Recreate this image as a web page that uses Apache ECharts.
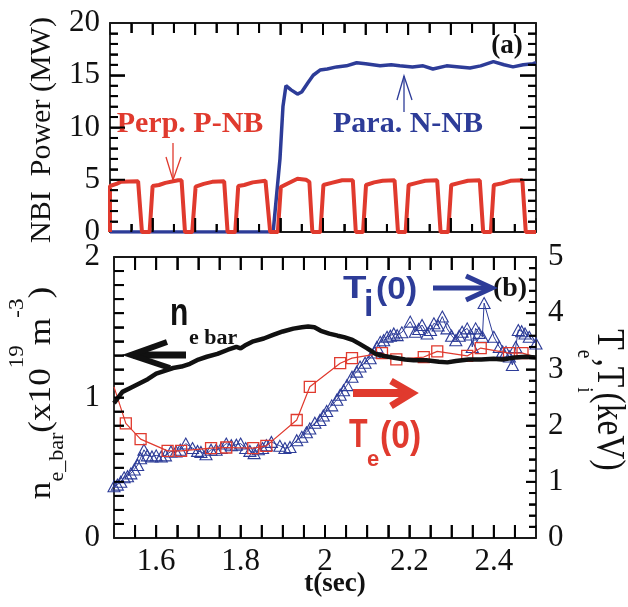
<!DOCTYPE html>
<html><head><meta charset="utf-8">
<script src="https://cdn.jsdelivr.net/npm/echarts@6/dist/echarts.min.js"></script>
<style>html,body{margin:0;padding:0;background:#fff}#c{width:628px;height:607px}</style>
</head><body><div id="c"></div>
<script>
// ---------- DATA ----------
// Top panel: perpendicular positive-ion NB power (MW) vs time (s)
const pnbTime = [1.500,1.500,1.515,1.525,1.566,1.575,1.593,1.600,1.615,1.630,1.660,1.668,1.676,1.693,1.701,1.720,1.740,1.768,1.776,1.794,1.801,1.815,1.835,1.865,1.868,1.876,1.894,1.901,1.915,1.940,1.960,1.968,1.975,1.994,2.001,2.020,2.045,2.070,2.077,2.094,2.101,2.120,2.140,2.168,2.176,2.194,2.201,2.220,2.240,2.268,2.276,2.294,2.301,2.320,2.340,2.368,2.376,2.394,2.401,2.420,2.440,2.468,2.476,2.500];
const pnbPower = [0,4.4,4.6,4.8,4.85,0,0,4.4,4.5,4.7,4.95,4.95,0,0,4.35,4.6,4.8,4.85,0,0,4.4,4.5,4.75,4.9,4.9,0,0,4.3,4.6,5.1,5.0,4.8,0,0,4.5,4.7,4.95,4.95,0,0,4.5,4.75,4.9,4.95,0,0,4.5,4.7,4.9,4.95,0,0,4.5,4.7,4.9,4.95,0,0,4.5,4.65,4.9,4.95,0,0];
// Top panel: parallel negative-ion NB power (MW)
const nnbTime = [1.500,1.883,1.899,1.906,1.913,1.925,1.940,1.950,1.965,1.977,1.993,2.010,2.032,2.055,2.079,2.100,2.134,2.160,2.180,2.210,2.235,2.258,2.290,2.320,2.345,2.370,2.400,2.425,2.446,2.470,2.493,2.500];
const nnbPower = [0,0,7.0,12.0,14.0,13.6,13.2,13.4,14.3,15.0,15.5,15.6,15.8,15.9,16.2,16.1,15.9,16.0,15.9,15.8,15.9,15.6,15.9,15.8,15.7,15.9,16.3,16.0,15.8,16.0,16.1,16.2];
// Bottom panel: line-averaged density (1e19 m^-3)
const neTime = [1.500,1.510,1.520,1.540,1.560,1.580,1.600,1.620,1.640,1.660,1.680,1.700,1.720,1.745,1.770,1.790,1.800,1.810,1.830,1.855,1.877,1.900,1.925,1.945,1.960,1.975,1.990,2.010,2.030,2.045,2.065,2.083,2.100,2.120,2.140,2.160,2.190,2.210,2.240,2.270,2.290,2.310,2.340,2.370,2.400,2.420,2.450,2.475,2.500];
const neValue = [0.96,1.00,1.04,1.07,1.10,1.13,1.17,1.19,1.21,1.22,1.24,1.27,1.29,1.31,1.34,1.36,1.35,1.37,1.40,1.42,1.445,1.47,1.49,1.50,1.505,1.50,1.475,1.455,1.44,1.43,1.41,1.38,1.35,1.31,1.295,1.285,1.27,1.265,1.265,1.255,1.25,1.26,1.27,1.27,1.275,1.27,1.285,1.29,1.285];
// Bottom panel: central electron temperature (keV)
const teTime = [1.500,1.528,1.563,1.627,1.659,1.730,1.766,1.830,1.861,1.933,1.964,2.036,2.064,2.135,2.169,2.234,2.266,2.337,2.369,2.436,2.468,2.500];
const teValue = [2.69,2.04,1.76,1.55,1.55,1.60,1.61,1.60,1.64,2.10,2.69,3.11,3.20,3.29,3.18,3.22,3.32,3.24,3.38,3.29,3.29,3.22];
// Bottom panel: central ion temperature (keV)
const tiTime = [1.500,1.508,1.516,1.524,1.532,1.540,1.548,1.556,1.563,1.571,1.579,1.590,1.600,1.612,1.622,1.635,1.647,1.657,1.670,1.686,1.698,1.706,1.718,1.730,1.742,1.754,1.766,1.778,1.790,1.800,1.812,1.822,1.832,1.842,1.852,1.861,1.873,1.893,1.905,1.917,1.933,1.945,1.956,1.964,1.976,1.988,1.996,2.004,2.016,2.028,2.036,2.044,2.052,2.064,2.075,2.083,2.095,2.107,2.117,2.123,2.131,2.139,2.147,2.155,2.163,2.171,2.182,2.202,2.214,2.222,2.230,2.242,2.250,2.258,2.268,2.278,2.289,2.300,2.310,2.318,2.325,2.337,2.345,2.349,2.357,2.365,2.373,2.377,2.400,2.413,2.421,2.429,2.437,2.444,2.452,2.458,2.466,2.474,2.484,2.500];
const tiValue = [0.92,0.95,1.00,1.08,1.10,1.15,1.22,1.30,1.42,1.57,1.47,1.45,1.47,1.45,1.47,1.54,1.54,1.57,1.68,1.60,1.55,1.53,1.49,1.57,1.57,1.60,1.68,1.65,1.66,1.68,1.60,1.55,1.51,1.58,1.60,1.65,1.71,1.64,1.60,1.62,1.74,1.80,1.88,1.95,2.05,2.10,2.18,2.26,2.36,2.46,2.55,2.63,2.72,2.87,2.96,3.05,3.12,3.20,3.30,3.40,3.49,3.52,3.58,3.60,3.64,3.61,3.66,3.85,3.67,3.72,3.79,3.64,3.70,3.82,3.78,3.94,3.73,3.60,3.52,3.60,3.67,3.73,3.62,3.40,3.73,3.65,3.58,4.18,3.58,3.40,3.32,3.31,3.23,3.08,3.40,3.70,3.68,3.64,3.58,3.46];
// Tick labels
const timeLabels = ['1.6','1.8','2','2.2','2.4'];
const powerLabels = ['0','5','10','15','20'];
const densityLabels = ['0','1','2'];
const tempLabels = ['0','1','2','3','4','5'];

// ---------- CHART ----------
const SERIF = '"Liberation Serif","Times New Roman",serif';
const SANS = '"Liberation Sans",Arial,sans-serif';
const RED = '#e03a2e', BLUE = '#2d3c98', BLACK = '#111', AX = '#1a1a1a';
const G0 = {left:110, top:23, width:426, height:209};
const G1 = {left:114, top:257, width:422, height:281};
const chart = echarts.init(document.getElementById('c'), null, {renderer:'canvas', width:628, height:607});
const pairs = (xs, ys) => xs.map((x, i) => [x, ys[i]]);

function xAx(grid, pos, labels, tl, ml) {
  return {
    type:'value', gridIndex:grid, position:pos, min:1.5, max:2.5, interval:0.1,
    axisLine:{show:true, onZero:false, lineStyle:{color:AX, width:1.8}},
    axisTick:{show:true, inside:true, length:tl, lineStyle:{color:AX, width:1.8}},
    minorTick:{show:true, splitNumber:2, length:ml, lineStyle:{color:AX, width:1.8}},
    splitLine:{show:false}, minorSplitLine:{show:false},
    axisLabel: labels ? {show:true, fontSize:31, fontFamily:SERIF, color:'#111', margin:8,
      formatter: v => { const s = String(Math.round(v*10)/10); return timeLabels.includes(s) ? s : ''; }} : {show:false}
  };
}
function yAx(grid, pos, max, interval, split, tl, ml, labelList, margin) {
  return {
    type:'value', gridIndex:grid, position:pos, min:0, max:max, interval:interval,
    axisLine:{show:true, onZero:false, lineStyle:{color:AX, width:1.8}},
    axisTick:{show:true, inside:true, length:tl, lineStyle:{color:AX, width:1.8}},
    minorTick:{show:true, splitNumber:split, length:ml, lineStyle:{color:AX, width:1.8}},
    splitLine:{show:false}, minorSplitLine:{show:false},
    axisLabel: labelList ? {show:true, fontSize:31, fontFamily:SERIF, color:'#111', margin:margin,
      formatter: v => { const s = String(Math.round(v*100)/100); return labelList.includes(s) ? s : ''; }} : {show:false}
  };
}

const teData = teTime.map((t, i) => (i === 0 || i === teTime.length - 1) ? {value:[t, teValue[i]], symbol:'none'} : [t, teValue[i]]);

function txt(x, baseline, str, size, family, weight, color, align, sx, sy) {
  sx = sx || 1; sy = sy || 1;
  return {type:'text', x:x, y:baseline - 0.34*size*sy, scaleX:sx, scaleY:sy, z:100, silent:true,
    style:{text:str, fontSize:size, fontFamily:family, fontWeight:weight, fill:color,
      align:align||'center', verticalAlign:'middle', textAlign:align||'center', textVerticalAlign:'middle'}};
}
function pl(points, color, width) {
  return {type:'polyline', z:100, silent:true, shape:{points:points},
    style:{stroke:color, lineWidth:width, fill:null, lineJoin:'miter', lineCap:'butt'}};
}

const graphics = [
  {type:'text', x:42, y:130, rotation:Math.PI/2, z:100, silent:true,
    style:{text:'NBI  Power (MW)', fontSize:30, fontFamily:SERIF, fill:'#111', align:'center', verticalAlign:'middle', textAlign:'center', textVerticalAlign:'middle'}},
  {type:'text', x:42, y:393, rotation:Math.PI/2, scaleX:1.1, z:100, silent:true,
    style:{text:'{m|n}{s|e_bar}{m|(x10}{p|19}{m|m}{p|-3}{m|)}', fill:'#111', align:'center', verticalAlign:'middle', textAlign:'center', textVerticalAlign:'middle',
      rich:{
        m:{fontSize:32, fontFamily:SERIF, lineHeight:76, verticalAlign:'middle', fill:'#111'},
        p:{fontSize:21, fontFamily:SERIF, lineHeight:21, verticalAlign:'top', padding:[3,0,0,0], fill:'#111'},
        s:{fontSize:20, fontFamily:SERIF, lineHeight:20, verticalAlign:'bottom', padding:[0,0,12,0], fill:'#111'}
      }}},
  {type:'text', x:609, y:400, rotation:-Math.PI/2, scaleX:1.08, scaleY:1.3, z:100, silent:true,
    style:{text:'{m|T}{s|e}{m|,T}{s|i}{m|(keV)}', fill:'#111', align:'center', verticalAlign:'middle', textAlign:'center', textVerticalAlign:'middle',
      rich:{
        m:{fontSize:31, fontFamily:SERIF, lineHeight:64, verticalAlign:'middle', fill:'#111'},
        s:{fontSize:18, fontFamily:SERIF, lineHeight:18, verticalAlign:'bottom', padding:[0,0,4,0], fill:'#111'}
      }}},
  txt(335, 593, 't(sec)', 27, SERIF, 'bold', '#111', 'center'),
  txt(507, 55, '(a)', 27, SERIF, 'bold', '#111', 'center'),
  txt(510, 298, '(b)', 28, SERIF, 'bold', '#111', 'center'),
  txt(190, 134, 'Perp. P-NB', 30, SERIF, 'bold', RED, 'center'),
  pl([[173,143],[173,180]], RED, 1.3),
  pl([[166,157],[173,180],[181,157]], RED, 1.3),
  txt(408, 134, 'Para. N-NB', 30, SERIF, 'bold', BLUE, 'center'),
  pl([[404,112],[404,76]], BLUE, 1.3),
  pl([[397,100],[404,76],[412,100]], BLUE, 1.3),
  txt(170, 328, 'n', 30, SANS, 'bold', BLACK, 'left', 1, 1.3),
  txt(189, 346, 'e bar', 20, SERIF, 'bold', BLACK, 'left', 1.1, 1),
  pl([[133,355],[186,355]], BLACK, 7),
  pl([[167,342],[131,355],[170,368]], BLACK, 6),
  txt(343, 300, 'T', 32, SANS, 'bold', BLUE, 'left', 1.2, 1),
  txt(364, 318, 'i', 34, SANS, 'bold', BLUE, 'left', 1, 1.1),
  txt(376, 301, '(0)', 32, SANS, 'bold', BLUE, 'left', 1.05, 1),
  pl([[433,288],[488,288]], BLUE, 5),
  pl([[466,276],[492,288],[466,300]], BLUE, 5),
  txt(349, 450, 'T', 32, SANS, 'bold', RED, 'left', 0.95, 1.25),
  txt(367, 467, 'e', 22, SANS, 'bold', RED, 'left', 1, 1),
  txt(380, 450, '(0)', 32, SANS, 'bold', RED, 'left', 1.05, 1.2),
  pl([[353,393],[408,393]], RED, 8),
  pl([[391,381],[412,393],[391,406]], RED, 7)
];

// inside axis ticks (axis decoration) derived from the grid layout and axis ranges
function steps(from, to, step) { const out = []; const n = Math.round((to - from) / step); for (let k = 1; k < n; k++) out.push(Math.round((from + k*step)*1000)/1000); return out; }
const isMul = (v, m) => Math.abs(v/m - Math.round(v/m)) < 1e-6;
const gx = (g, v) => g.left + (v - 1.5) / 1.0 * g.width;
const gy = (g, v, max) => g.top + g.height - v / max * g.height;
function tick(x, y, dx, dy, L) { graphics.push(pl([[x, y], [x + dx*L, y + dy*L]], '#000', 2)); }
const tTicks = steps(1.5, 2.5, 0.05), pTicks = steps(0, 20, 1), nTicks = steps(0, 2, 0.1), kTicks = steps(0, 5, 0.2);
tTicks.forEach(v => {
  const major = isMul(v, 0.1);
  tick(gx(G0, v), G0.top + G0.height, 0, -1, major ? 14 : 8);
  tick(gx(G0, v), G0.top, 0, 1, major ? 12 : 10);
  tick(gx(G1, v), G1.top + G1.height, 0, -1, 13);
  tick(gx(G1, v), G1.top, 0, 1, 13);
});
pTicks.forEach(v => {
  const major = isMul(v, 5);
  tick(G0.left, gy(G0, v, 20), 1, 0, major ? 15 : 8);
  tick(G0.left + G0.width, gy(G0, v, 20), -1, 0, major ? 16 : 8);
});
nTicks.forEach(v => tick(G1.left, gy(G1, v, 2), 1, 0, 10));
kTicks.forEach(v => tick(G1.left + G1.width, gy(G1, v, 5), -1, 0, isMul(v, 1) ? 10 : 7));

const option = {
  animation:false,
  grid:[G0, G1],
  xAxis:[ xAx(0,'bottom',false,14,8), xAx(0,'top',false,12,10), xAx(1,'bottom',true,13,13), xAx(1,'top',false,13,13) ],
  yAxis:[
    yAx(0,'left',20,5,5,15,8,powerLabels,10),
    yAx(0,'right',20,5,5,16,8,null,0),
    yAx(1,'left',2,1,10,10,10,densityLabels,14),
    yAx(1,'right',5,1,5,10,7,tempLabels,12)
  ],
  series:[
    {type:'line', name:'Para. N-NB', xAxisIndex:0, yAxisIndex:0, data:pairs(nnbTime, nnbPower), symbol:'none', lineStyle:{color:BLUE, width:3.5}, itemStyle:{color:BLUE}, z:2},
    {type:'line', name:'Perp. P-NB', xAxisIndex:0, yAxisIndex:0, data:pairs(pnbTime, pnbPower), symbol:'none', lineStyle:{color:RED, width:4}, itemStyle:{color:RED}, z:3},
    {type:'line', name:'ne_bar', xAxisIndex:2, yAxisIndex:2, data:pairs(neTime, neValue), symbol:'none', lineStyle:{color:BLACK, width:4.5}, itemStyle:{color:BLACK}, z:4},
    {type:'line', name:'Te(0)', xAxisIndex:2, yAxisIndex:3, data:teData, symbol:'rect', symbolSize:11, showAllSymbol:true,
      itemStyle:{color:'rgba(0,0,0,0)', borderColor:RED, borderWidth:1.3}, lineStyle:{color:RED, width:1.2}, z:3},
    {type:'line', name:'Ti(0)', xAxisIndex:2, yAxisIndex:3, data:pairs(tiTime, tiValue), symbol:'triangle', symbolSize:[12,11], showAllSymbol:true,
      itemStyle:{color:'rgba(0,0,0,0)', borderColor:BLUE, borderWidth:1.1}, lineStyle:{color:BLUE, width:1}, z:2}
  ],
  graphic: graphics
};
chart.setOption(option);
</script>
</body></html>
